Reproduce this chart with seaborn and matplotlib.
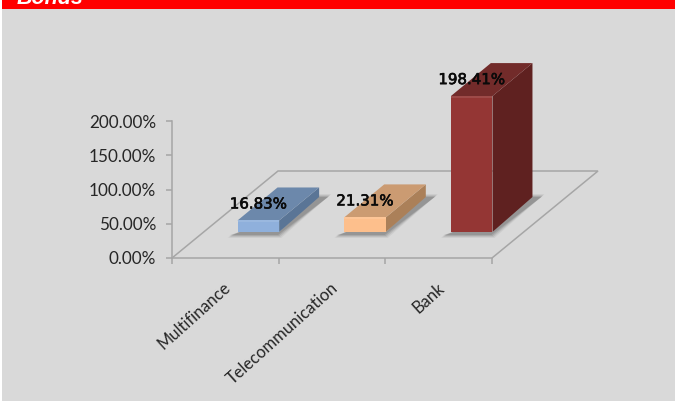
import numpy as np
import pandas as pd
import matplotlib
matplotlib.use("Agg")
import matplotlib.pyplot as plt
import matplotlib.patheffects as pe
from matplotlib.patches import Polygon, Rectangle
from matplotlib.transforms import Affine2D
import seaborn as sns

# Chart data
categories = ["Multifinance", "Telecommunication", "Bank"]
values = [16.83, 21.31, 198.41]
value_ticks = [0, 50, 100, 150, 200]
front_colors = ["#8FB0DC", "#FDBF8C", "#943634"]
top_colors = ["#6C88AB", "#CB9B72", "#722B2A"]
side_colors = ["#5A7596", "#AB8059", "#5F2120"]

W, H = 675, 401
BG = "#D9D9D9"
LINE = "#A6A6A6"

sns.set_theme(style="white")
plt.rcParams["font.family"] = ["Lato", "DejaVu Sans"]

fig = plt.figure(figsize=(W / 100, H / 100), dpi=100, facecolor="white")

# Slide-style panel and red title strip
fig.add_artist(Rectangle((2 / W, 0), (W - 2) / W, 1, transform=fig.transFigure, color=BG, lw=0, zorder=-2))
fig.add_artist(Rectangle((2 / W, 1 - 9 / H), (W - 2) / W, 9 / H, transform=fig.transFigure,
                         color="#FF0000", lw=0, zorder=-1))
fig.text(17 / W, 1 - 4 / H, "Bonds", color="white", fontsize=15.5, fontweight="bold",
         fontstyle="italic", family="Liberation Sans", va="baseline", ha="left")

# Axes box is the front plane of the 3-D plot: left wall height and floor's front edge
ax = fig.add_axes([172 / W, 1 - 258 / H, 320 / W, 137 / H])
ax.patch.set_alpha(0)

df = pd.DataFrame({"category": categories, "value": values})
BAR_W = 0.39
sns.barplot(data=df, x="category", y="value", hue="category", palette=front_colors,
            legend=False, width=BAR_W, saturation=1, ax=ax, zorder=5, edgecolor="none", linewidth=0)
ax.set_xlim(-0.5, 2.5)
ax.set_ylim(0, 200)
ax.set_xlabel("")
ax.set_ylabel("")

# Depth vectors, in data units
x_per_px = 3 / 320
y_per_px = 200 / 137
floor_dx, floor_dy = 106 * x_per_px, 87 * y_per_px
shift_x, shift_y = 33 * x_per_px, 26 * y_per_px
bar_dx = 40 * x_per_px
top_dy, base_dy = 33 * y_per_px, 35 * y_per_px

# Floor outline
floor = [(-0.5, 0), (-0.5 + floor_dx, floor_dy), (2.5 + floor_dx, floor_dy), (2.5, 0)]
ax.add_patch(Polygon(floor, closed=False, fill=False, ec=LINE, lw=1.1, clip_on=False, zorder=1))

# Move the front faces back onto the floor
to_floor = Affine2D().translate(shift_x, shift_y) + ax.transData
for bar in ax.patches[:]:
    if isinstance(bar, Rectangle):
        bar.set_transform(to_floor)
        bar.set_clip_on(False)

for i, v in enumerate(values):
    x0, x1 = i - BAR_W / 2 + shift_x, i + BAR_W / 2 + shift_x
    b, t = shift_y, shift_y + v

    # Soft cast shadow on the floor, built from stacked translucent layers
    for grow, alpha in ((2.0, 0.10), (1.0, 0.16), (0.0, 0.24), (-1.0, 0.30)):
        gx, gy = grow * x_per_px, grow * y_per_px
        shadow = [(x0 - (8 + grow) * x_per_px, b - 4 * y_per_px - gy),
                  (x1 + gx, b - 4 * y_per_px - gy),
                  (x1 + bar_dx + (10 + grow) * x_per_px, b + base_dy + 1 * y_per_px + gy),
                  (x1 + bar_dx - 2 * x_per_px, b + base_dy + 1 * y_per_px + gy),
                  (x1, b),
                  (x0 + 2 * x_per_px, b)]
        ax.add_patch(Polygon(shadow, fc="#6A6A6A", ec="none", alpha=alpha, clip_on=False, zorder=2))

    ax.add_patch(Polygon([(x1, b), (x1 + bar_dx, b + base_dy), (x1 + bar_dx, t + top_dy), (x1, t)],
                         fc=side_colors[i], ec="none", clip_on=False, zorder=4))
    ax.add_patch(Polygon([(x0, t), (x1, t), (x1 + bar_dx, t + top_dy), (x0 + bar_dx, t + top_dy)],
                         fc=top_colors[i], ec="none", clip_on=False, zorder=4))
    # Faint bevel along the top of the front face
    ax.add_patch(Rectangle((x0, t - 2 * y_per_px), BAR_W, 2 * y_per_px, fc="white", ec="none",
                           alpha=0.10, clip_on=False, zorder=6))
    label = ax.text(i + shift_x, t + 16.5 * y_per_px, f"{v:.2f}%", ha="center", va="center",
                    fontsize=10.8, color="#0A0A0A", family="DejaVu Sans",
                    clip_on=False, zorder=8)
    label.set_path_effects([pe.withStroke(linewidth=0.45, foreground="#0A0A0A")])

# Value axis and category axis
sns.despine(ax=ax, top=True, right=True)
for side in ("left", "bottom"):
    ax.spines[side].set_color(LINE)
    ax.spines[side].set_linewidth(1.1)
ax.set_yticks(value_ticks)
ax.set_yticklabels([f"{t:.2f}%" for t in value_ticks])
ax.set_xticks([-0.5, 0.5, 1.5, 2.5], minor=False)
ax.set_xticklabels([])
ax.tick_params(axis="both", which="major", length=4.3, width=1.1, color=LINE,
               left=True, bottom=True, labelcolor="#262626", labelsize=12.3, pad=7)

# Slanted category names sit between the ticks
for i, name in enumerate(categories):
    ax.annotate(name, xy=(i, 0), xycoords="data", xytext=(-1.5, -15.5), textcoords="offset points",
                rotation=42, rotation_mode="anchor", ha="right", va="top",
                fontsize=11.9, color="#262626", annotation_clip=False)

fig.savefig("out.png", dpi=100, facecolor=fig.get_facecolor())
